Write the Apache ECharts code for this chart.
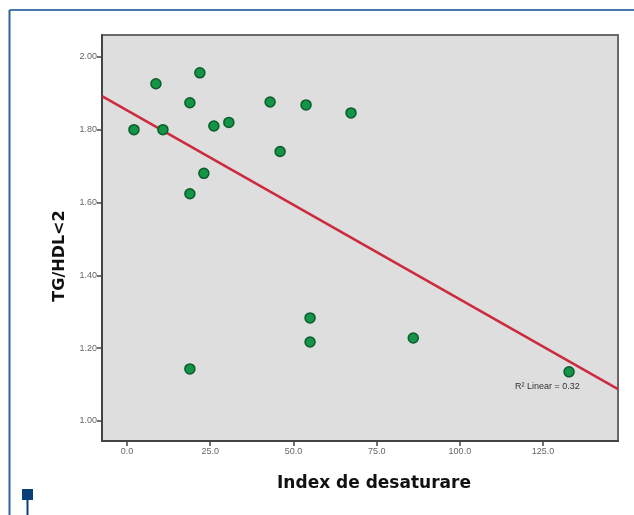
<!DOCTYPE html>
<html>
<head>
<meta charset="utf-8">
<script src="https://cdn.jsdelivr.net/npm/echarts@6/dist/echarts.min.js"></script>
<style>
	html, body { margin: 0; padding: 0; background: #fff; }
	#main { width: 634px; height: 515px; }
</style>
</head>
<body>
<div id="main"></div>
<script>
// index de desaturare vs TG/HDL<2
const desat = [ 2.1, 8.7, 10.8, 18.9, 21.9, 26.1, 30.6, 23.1, 18.9, 43.0, 46.0, 53.8, 67.3, 55.0, 55.0, 18.9, 86.0, 132.8 ]
const tgHdl = [ 1.80, 1.926, 1.80, 1.874, 1.956, 1.81, 1.82, 1.68, 1.624, 1.876, 1.74, 1.868, 1.846, 1.283, 1.217, 1.143, 1.228, 1.135 ]
const xTicks = [ 0, 25, 50, 75, 100, 125 ]
const yTicks = [ 1.0, 1.2, 1.4, 1.6, 1.8, 2.0 ]
const xMin = -7.5, xMax = 147.5
const yMin = 0.945, yMax = 2.06

// linear fit, as in the spss chart
const n = desat.length
const mx = desat.reduce((a, b) => a + b, 0) / n
const my = tgHdl.reduce((a, b) => a + b, 0) / n
let sxy = 0, sxx = 0, syy = 0
desat.forEach((x, i) => {
	sxy += (x - mx) * (tgHdl[i] - my)
	sxx += (x - mx) ** 2
	syy += (tgHdl[i] - my) ** 2
})
const slope = sxy / sxx
const icpt = my - slope * mx
const r2 = sxy * sxy / (sxx * syy)
const fit = [ [ xMin, icpt + slope * xMin ], [ xMax, icpt + slope * xMax ] ]

const titleFont = { fontFamily: 'DejaVu Sans', fontWeight: 'bold', fill: '#111' }

const chart = echarts.init(document.getElementById('main'))
chart.setOption({
	backgroundColor: '#fff',
	animation: false,
	grid: {
		left: 102, top: 35, right: 16, bottom: 74,
		show: true,
		backgroundColor: '#dedede',
		borderColor: '#6a6a6a',
		borderWidth: 2
	},
	xAxis: {
		type: 'value',
		min: xMin, max: xMax,
		axisLine: { show: true, onZero: false, lineStyle: { color: '#444', width: 2 } },
		axisTick: { show: true, length: 5, customValues: xTicks, lineStyle: { color: '#444', width: 1.5 } },
		axisLabel: {
			customValues: xTicks,
			formatter: v => v.toFixed(1),
			fontFamily: 'Liberation Sans', fontSize: 9, color: '#666', margin: 6
		},
		splitLine: { show: false }
	},
	yAxis: {
		type: 'value',
		min: yMin, max: yMax,
		axisLine: { show: true, onZero: false, lineStyle: { color: '#444', width: 2 } },
		axisTick: { show: true, length: 5, customValues: yTicks, lineStyle: { color: '#444', width: 1.5 } },
		axisLabel: {
			customValues: yTicks,
			formatter: v => v.toFixed(2),
			fontFamily: 'Liberation Sans', fontSize: 9, color: '#666', margin: 5
		},
		splitLine: { show: false }
	},
	series: [
		{
			type: 'line',
			data: fit,
			symbol: 'none',
			lineStyle: { color: '#cc2a3e', width: 2.5 },
			z: 2
		},
		{
			type: 'scatter',
			data: desat.map((x, i) => [ x, tgHdl[i] ]),
			symbolSize: 10,
			itemStyle: { color: '#139447', borderColor: '#0a5c2c', borderWidth: 1.5, opacity: 1 },
			z: 3
		}
	],
	graphic: [
		{ type: 'line', shape: { x1: 9.5, y1: 10, x2: 634, y2: 10 }, style: { stroke: '#4a7aab', lineWidth: 2 } },
		{ type: 'line', shape: { x1: 9.5, y1: 10, x2: 9.5, y2: 515 }, style: { stroke: '#2f639c', lineWidth: 2 } },
		{ type: 'rect', shape: { x: 22, y: 489, width: 11, height: 11 }, style: { fill: '#0b3f78' } },
		{ type: 'line', shape: { x1: 27.5, y1: 500, x2: 27.5, y2: 515 }, style: { stroke: '#0b3f78', lineWidth: 2 } },
		{
			type: 'text', x: 374, y: 484,
			style: Object.assign({ text: 'Index de desaturare', fontSize: 17, align: 'center', verticalAlign: 'middle' }, titleFont)
		},
		{
			type: 'text', x: 60, y: 256, rotation: Math.PI / 2,
			style: Object.assign({ text: 'TG/HDL<2', fontSize: 16, align: 'center', verticalAlign: 'middle' }, titleFont)
		},
		{
			type: 'text', left: 515, top: 382,
			style: { text: 'R² Linear = ' + r2.toFixed(2), fontFamily: 'Liberation Sans', fontSize: 9, fill: '#333' },
			z: 10
		}
	]
})
</script>
</body>
</html>
